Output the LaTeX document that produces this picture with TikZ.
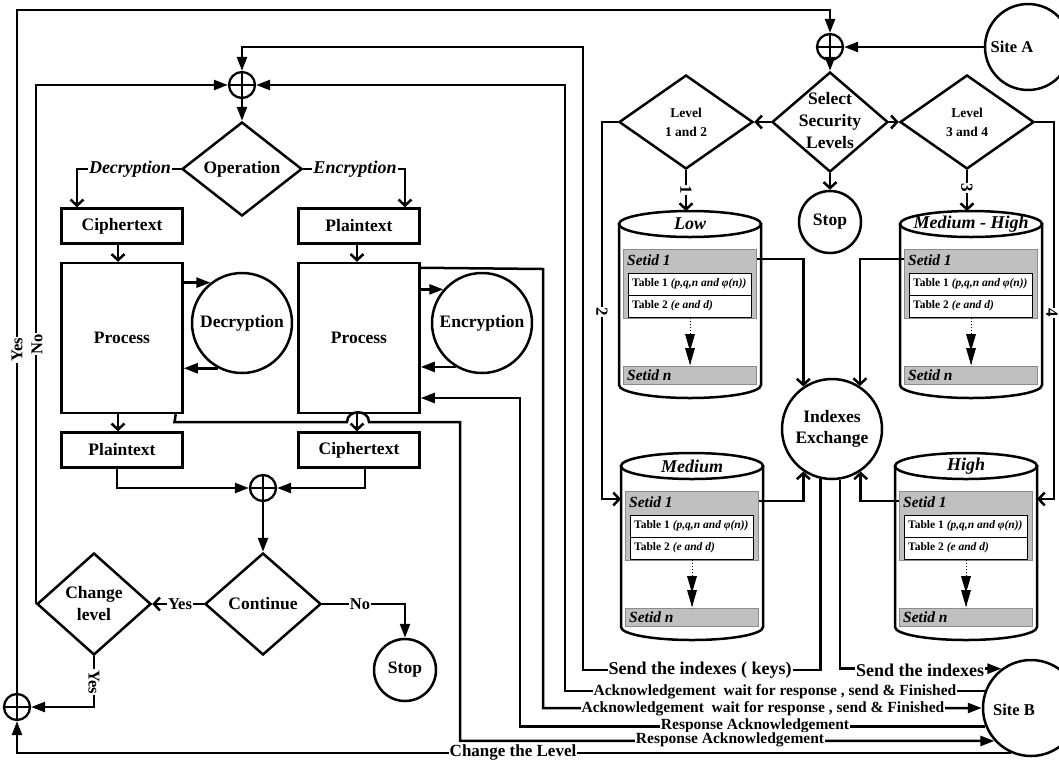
\documentclass[tikz,border=0pt]{standalone}
\usepackage{fontspec}
\setmainfont{Liberation Serif}
\usetikzlibrary{arrows.meta,shapes.geometric}
\definecolor{setgray}{RGB}{192,192,192}
\definecolor{setedge}{RGB}{140,140,140}
\tikzset{
 ln/.style={line width=2.5pt},
 fa/.style={ln, -{Triangle[length=14pt,width=10pt]}},
 ba/.style={ln, -{Straight Barb[length=6pt,width=13pt]}},
 box/.style={draw, ln, fill=white, minimum width=121pt, minimum height=35pt, inner sep=0pt, font=\bfseries\fontsize{17.5}{21}\selectfont},
 pbox/.style={box, minimum height=150pt},
 dia/.style={draw, ln, diamond, fill=white, inner sep=0pt, aspect=1},
 rnd/.style={draw, ln, circle, fill=white, inner sep=0pt, align=center, font=\bfseries\fontsize{17.5}{21}\selectfont},
 xor/.style={circle, draw, line width=2.3pt, minimum size=26pt, inner sep=0pt, fill=white,
   path picture={\draw[line width=2.3pt] (path picture bounding box.north) -- (path picture bounding box.south) (path picture bounding box.west) -- (path picture bounding box.east);}},
 dtxt/.style={inner sep=0pt, align=center, font=\bfseries\fontsize{17.5}{22}\selectfont},
 ltxt/.style={inner sep=0pt, align=center, font=\bfseries\fontsize{13.5}{19}\selectfont},
 stxt/.style={inner sep=0pt, font=\bfseries\fontsize{16.5}{20}\selectfont},
 ilbl/.style={fill=white, inner sep=1pt, font=\bfseries\itshape\fontsize{18}{21}\selectfont},
 slbl/.style={fill=white, inner sep=1pt, font=\bfseries\fontsize{16.5}{19}\selectfont},
 nlbl/.style={fill=white, inner sep=1pt, font=\bfseries\fontsize{17}{20}\selectfont},
 blbl/.style={fill=white, inner sep=1pt, font=\bfseries\fontsize{18}{20}\selectfont},
 albl/.style={fill=white, inner sep=0.5pt, font=\bfseries\fontsize{15.5}{18}\selectfont},
 cyltxt/.style={inner sep=0pt, font=\bfseries\itshape\fontsize{18}{21}\selectfont},
 setbox/.style={fill=setgray, draw=setedge, line width=0.6pt, minimum width=133pt, inner sep=0pt},
 settxt/.style={anchor=west, inner sep=0pt, font=\bfseries\itshape\fontsize{15.5}{18}\selectfont},
 tabbox/.style={draw, line width=1pt, fill=white, minimum width=123pt, minimum height=44pt, inner sep=0pt},
 tabtxt/.style={anchor=west, inner sep=0pt, font=\bfseries\fontsize{11.5}{13}\selectfont},
 dotln/.style={dotted, line width=1pt},
}
\newcommand\dbcyl[4]{%
 \draw[ln, fill=white] (#2-71,#3) -- (#2-71,#3+161) arc[start angle=180, end angle=0, x radius=71, y radius=13] -- (#2+71,#3) -- cycle;
 \draw[ln, fill=white] (#2,#3) ellipse[x radius=71, y radius=13];
 \coordinate (#1-top) at (#2,#3-13);
 \coordinate (#1-left) at (#2-71,#3+33);
 \coordinate (#1-right) at (#2+71,#3+33);
 \node[cyltxt] (#1-lbl) at (#2,#3) {#4};
 \node[setbox, minimum height=69pt, anchor=north] (#1-set1) at (#2,#3+25) {};
 \node[settxt] (#1-s1t) at (#2-63,#3+36) {Setid 1};
 \node[tabbox, anchor=north] (#1-tab) at (#2,#3+49) {};
 \draw[line width=1pt] (#1-tab.west) -- (#1-tab.east);
 \node[tabtxt] (#1-t1) at (#2-58,#3+60) {Table 1 \textit{(p,q,n and φ(n))}};
 \node[tabtxt] (#1-t2) at (#2-58,#3+82) {Table 2 \textit{(e and d)}};
 \node[setbox, minimum height=18pt, anchor=north] (#1-setn) at (#2,#3+142) {};
 \node[settxt] (#1-snt) at (#2-63,#3+151) {Setid n};
 \draw[dotln] (#1-tab.south) -- (#1-setn.north);
 \fill (#2-5,#3+110) -- (#2+5,#3+110) -- (#2,#3+127) -- cycle;
 \fill (#2-5,#3+124) -- (#2+5,#3+124) -- (#2,#3+141) -- cycle;
}
\begin{document}
\begin{tikzpicture}[x=1pt,y=-1pt]
\useasboundingbox (0,0) rectangle (1059,761);
\clip (0,0) rectangle (1059,761);
\fill[white] (0,0) rectangle (1059,761);

% ---------- left part ----------
\node[xor] (opxor) at (242,85) {};
\node[dia, minimum width=120pt, minimum height=94pt] (op) at (242,169) {};
\node[dtxt] (opt) at (op) {Operation};
\node[box] (ct1) at (122,226) {Ciphertext};
\node[box] (pt1) at (359,226) {Plaintext};
\node[pbox] (proc1) at (122,338) {Process};
\node[pbox] (proc2) at (359,338) {Process};
\node[rnd, minimum size=100pt] (dec) at (242,323) {Decryption};
\node[rnd, minimum size=100pt] (enc) at (482,323) {Encryption};
\node[box] (pt2) at (122,450) {Plaintext};
\node[box] (ct2) at (359,450) {Ciphertext};
\node[xor] (joinxor) at (263,488) {};
\node[dia, minimum width=116pt, minimum height=102pt] (cont) at (263,604) {};
\node[dtxt] (contt) at (cont) {Continue};
\node[dia, minimum width=114pt, minimum height=102pt] (chg) at (94,604) {};
\node[dtxt] (chgt) at (chg) {Change\\level};
\node[rnd, minimum size=62pt] (stop2) at (405,670) {Stop};
\node[xor] (lowxor) at (17,707) {};

% ---------- right part ----------
\node[xor] (selxor) at (830,47) {};
\node[draw, ln, circle, minimum size=86pt, fill=white] (siteA) at (1028,47) {};
\node[stxt] (siteAt) at (1012,47) {Site A};
\node[dia, minimum width=116pt, minimum height=100pt] (sel) at (830,122) {};
\node[dtxt] (selt) at (830,121) {Select\\Security\\Levels};
\node[dia, minimum width=134pt, minimum height=94pt] (l12) at (686,122) {};
\node[ltxt] (l12t) at (l12) {Level\\1 and 2};
\node[dia, minimum width=134pt, minimum height=94pt] (l34) at (967,122) {};
\node[ltxt] (l34t) at (l34) {Level\\3 and 4};
\node[rnd, minimum size=62pt] (stop1) at (830,222) {Stop};
\dbcyl{low}{690}{224}{Low}
\dbcyl{mh}{971}{224}{Medium - High}
\dbcyl{med}{692}{466}{Medium}
\dbcyl{high}{966}{466}{High}
\node[rnd, minimum size=100pt] (idx) at (832,429) {Indexes\\Exchange};
\node[draw, ln, circle, minimum size=96pt, fill=white] (siteB) at (1031,708) {};
\node[stxt] (siteBt) at (1014,710) {Site B};

% ---------- connectors ----------
\draw[fa] (lowxor.north) -- (17,10) -| (selxor.north);
\draw[fa] (siteA.west) -- (selxor.east);
\draw[fa] (selxor.south) -- (sel.north);
\draw[ba] (sel.west) -- (l12.east);
\draw[ba] (sel.east) -- (l34.west);
\draw[ba] (sel.south) -- (stop1.north);
\draw[ba] (l12.south) -- (l12.south |- low-top);
\draw[ba] (l34.south) -- (l34.south |- mh-top);
\draw[ba] (l12.west) -- (602,122) |- (med-left);
\draw[ba] (l34.east) -- (1054,122) |- (high-right);
\draw[ba] ([yshift=-10pt]low-set1.north east) -| (idx.124);
\draw[ba] ([yshift=-10pt]mh-set1.north west) -| (idx.57);
\draw[ba] ([yshift=-10pt]med-set1.north east) -| (idx.236);
\draw[ba] ([yshift=-10pt]high-set1.north west) -| (idx.304);
\draw[fa] (idx.257) |- (583,670) -- (583,47) -| (opxor.north);
\draw[fa] (idx.279) |- (siteB.127);
\draw[fa] (siteB.160) -| (565,85) -- (opxor.east);
\draw[fa] ([yshift=-6pt]proc2.north east) -- (543,269) |- (siteB.west);
\draw[fa] (siteB.202) -| (520,398) -- (proc2.east |- 0,398);
\draw[fa] ([xshift=-8pt]proc1.south east) -- (174.5,422) -- (347,422) .. controls (347,409) and (369,409) .. (369,422) -- (460,422) |- (siteB.222);
\draw[fa] (siteB.246) -| (lowxor.south);

\draw[fa] (opxor.south) -- (op.north);
\draw[ba] (op.west) -| ([xshift=-45pt]ct1.north);
\draw[ba] (op.east) -| ([xshift=46pt]pt1.north);
\draw[ba] ([xshift=-4pt]ct1.south) -- ([xshift=-4pt]proc1.north);
\draw[ba] ([xshift=-2pt]pt1.south) -- ([xshift=-2pt]proc2.north);
\draw[fa] (proc1.east |- dec.128) -- (dec.128);
\draw[fa] (dec.242) -- (proc1.east |- dec.242);
\draw[fa] (proc2.east |- enc.139) -- (enc.139);
\draw[fa] (enc.239) -- (proc2.east |- enc.239);
\draw[ba] ([xshift=-4pt]proc1.south) -- ([xshift=-4pt]pt2.north);
\draw[ba] ([xshift=-2pt]proc2.south) -- ([xshift=-2pt]ct2.north);
\draw[fa] ([xshift=-5pt]pt2.south) |- (joinxor.west);
\draw[fa] ([xshift=6pt]ct2.south) |- (joinxor.east);
\draw[fa] (joinxor.south) -- (cont.north);
\draw[ba] (cont.west) -- (chg.east);
\draw[fa] (cont.east) -| (stop2.north);
\draw[fa] (chg.south) |- (lowxor.east);
\draw[fa] (chg.west) |- (opxor.west);

% ---------- labels ----------
\node[ilbl] (ldec) at (130,169) {Decryption};
\node[ilbl] (lenc) at (355,169) {Encryption};
\node[slbl] (lyes1) at (180,604) {Yes};
\node[slbl] (lno1) at (360,604) {No};
\node[slbl, rotate=-90] (lyes2) at (94,682) {Yes};
\node[slbl, rotate=90] (lyes3) at (17,350) {Yes};
\node[slbl, rotate=90] (lno2) at (37,344) {No};
\node[nlbl, rotate=-90] (n1) at (686,190) {1};
\node[nlbl, rotate=-90] (n3) at (967,188) {3};
\node[nlbl, rotate=-90] (n2) at (602,312) {2};
\node[nlbl, rotate=-90] (n4) at (1052,313) {4};
\node[blbl] (sk) at (700,670) {Send the indexes ( keys)};
\node[blbl] (si) at (920,670) {Send the indexes};
\node[albl] (ack1) at (775,692) {Acknowledgement\ \ wait for response , send \& Finished};
\node[albl] (ack2) at (763,709) {Acknowledgement\ \ wait for response , send \& Finished};
\node[albl] (ra1) at (755,726) {Response Acknowledgement};
\node[albl] (ra2) at (730,740) {Response Acknowledgement};
\node[albl, font=\bfseries\fontsize{17}{18}\selectfont] (chl) at (513,752) {Change the Level};
\end{tikzpicture}
\end{document}
